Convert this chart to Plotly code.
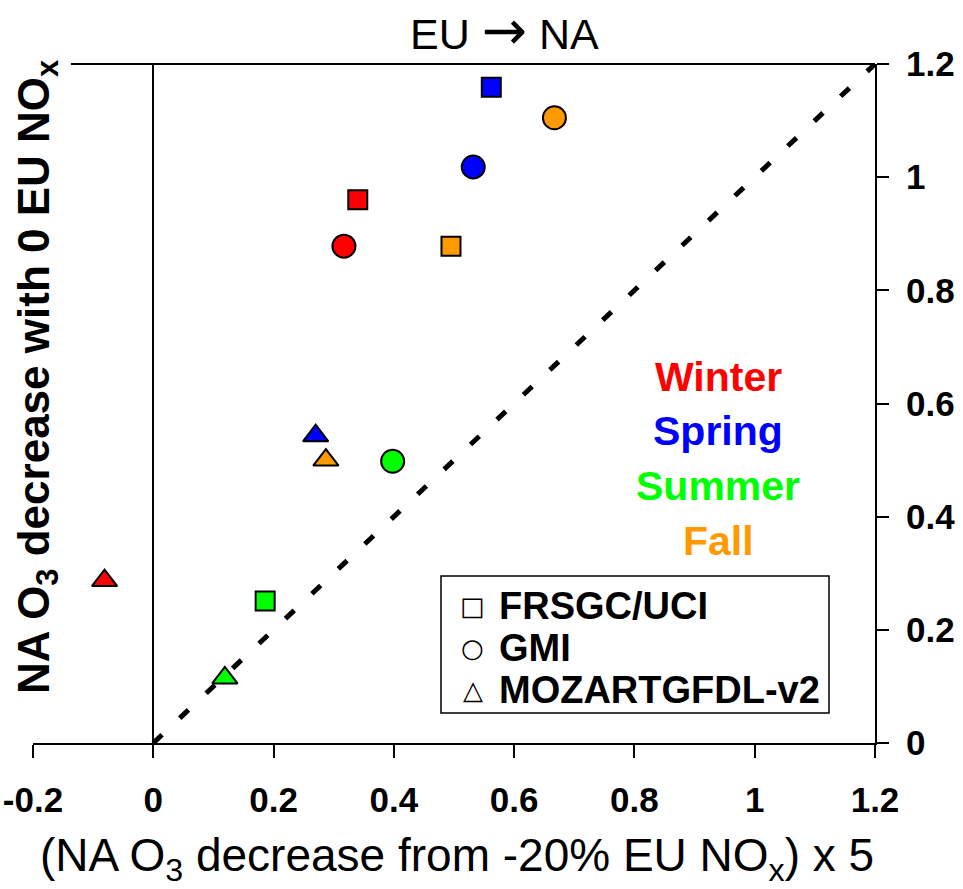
import plotly.graph_objects as go

# ---- data ----
seasons = ["Winter", "Spring", "Summer", "Fall"]
season_colors = ["#FF0000", "#0000FF", "#00FF00", "#FF9900"]
models = ["FRSGC/UCI", "GMI", "MOZARTGFDL-v2"]
model_symbols = ["square", "circle", "triangle-up"]

# x: (NA O3 decrease from -20% EU NOx) x 5 ; y: NA O3 decrease with 0 EU NOx
frsgc_x = [0.340, 0.562, 0.186, 0.495]
frsgc_y = [0.960, 1.159, 0.251, 0.878]
gmi_x = [0.317, 0.532, 0.398, 0.667]
gmi_y = [0.878, 1.018, 0.498, 1.105]
moz_x = [-0.081, 0.270, 0.119, 0.287]
moz_y = [0.287, 0.543, 0.115, 0.500]

one_to_one_x = [0.0, 1.2]
one_to_one_y = [0.0, 1.2]

x_ticks = [-0.2, 0.0, 0.2, 0.4, 0.6, 0.8, 1.0, 1.2]
x_ticktext = ["-0.2", "0", "0.2", "0.4", "0.6", "0.8", "1", "1.2"]
y_ticks = [0.0, 0.2, 0.4, 0.6, 0.8, 1.0, 1.2]
y_ticktext = ["0", "0.2", "0.4", "0.6", "0.8", "1", "1.2"]

FONT = "Liberation Sans, Arial, sans-serif"

fig = go.Figure()

fig.add_trace(go.Scatter(
    x=one_to_one_x, y=one_to_one_y, mode="lines",
    line=dict(color="black", width=5, dash="12px,24.3px"),
    showlegend=False, cliponaxis=False, hoverinfo="skip"))

model_data = [(frsgc_x, frsgc_y), (gmi_x, gmi_y), (moz_x, moz_y)]
sizes = [19, 23, 22]
for name, sym, (xs, ys), sz in zip(models, model_symbols, model_data, sizes):
    fig.add_trace(go.Scatter(
        x=xs, y=ys, mode="markers", name=name, text=seasons,
        marker=dict(symbol=sym, size=sz, color=season_colors,
                    line=dict(color="black", width=2)),
        showlegend=False, cliponaxis=False))

L, R, T, B = 33, 88, 64, 146
W, H = 963, 889
pw, ph = W - L - R, H - T - B

def px(xp):
    return (xp - L) / pw

def py(yp):
    return (H - B - yp) / ph

annotations = []
# title
annotations.append(dict(
    text="EU <span style='font-family:DejaVu Sans;font-size:54px'>\u2192</span> NA",
    x=px(504), y=py(31), xref="paper", yref="paper",
    showarrow=False, xanchor="center", yanchor="middle",
    font=dict(family=FONT, size=43, color="black")))
# x title
annotations.append(dict(text="(NA O<sub>3</sub> decrease from -20% EU NO<sub>x</sub>) x 5",
                        x=px(457), y=py(858), xref="paper", yref="paper",
                        showarrow=False, xanchor="center", yanchor="middle",
                        font=dict(family=FONT, size=46, color="black")))
# y title
annotations.append(dict(text="NA O<sub>3</sub> decrease with 0 EU NO<sub>x</sub>",
                        x=px(37), y=py(377), xref="paper", yref="paper", textangle=-90,
                        showarrow=False, xanchor="center", yanchor="middle",
                        font=dict(family=FONT, size=44, color="black", weight="bold")))
# season labels
season_y = [377, 431, 486, 541]
for s, c, yy in zip(seasons, season_colors, season_y):
    annotations.append(dict(text=s, x=px(718), y=py(yy), xref="paper", yref="paper",
                            showarrow=False, xanchor="center", yanchor="middle",
                            font=dict(family=FONT, size=41, color=c, weight="bold")))
# legend (manual)
legend_glyphs = ["\u25A1", "\u25CB", "\u25B3"]
legend_y = [606, 648, 690]
for g, m, yy in zip(legend_glyphs, models, legend_y):
    annotations.append(dict(text=g, x=px(473), y=py(yy), xref="paper", yref="paper",
                            showarrow=False, xanchor="center", yanchor="middle",
                            font=dict(family="DejaVu Sans, sans-serif", size=26, color="black")))
    annotations.append(dict(text=m, x=px(497), y=py(yy), xref="paper", yref="paper",
                            showarrow=False, xanchor="left", yanchor="middle",
                            font=dict(family=FONT, size=38, color="black", weight="bold")))

shapes = [
    dict(type="line", xref="paper", yref="paper", x0=px(71), x1=1, y0=1, y1=1,
         line=dict(color="black", width=2)),
    dict(type="rect", xref="paper", yref="paper", x0=px(441), x1=px(829), y0=py(713), y1=py(576),
         line=dict(color="black", width=1.5), fillcolor="rgba(0,0,0,0)"),
]

fig.update_layout(
    width=W, height=H, margin=dict(l=L, r=R, t=T, b=B, autoexpand=False),
    paper_bgcolor="white", plot_bgcolor="white",
    showlegend=False, annotations=annotations, shapes=shapes,
    xaxis=dict(range=[-0.2, 1.2], tickvals=x_ticks, ticktext=x_ticktext,
               automargin=False,
               showgrid=False, showline=True, linecolor="black", linewidth=2,
               ticks="outside", ticklen=13, tickwidth=2, tickcolor="black",
               zeroline=True, zerolinecolor="black", zerolinewidth=2,
               ticklabelstandoff=12,
               tickfont=dict(family=FONT, size=35, color="black", weight="bold")),
    yaxis=dict(range=[0, 1.2], tickvals=y_ticks, ticktext=y_ticktext, side="right",
               automargin=False,
               showgrid=False, showline=True, linecolor="black", linewidth=2,
               ticks="outside", ticklen=12, tickwidth=2, tickcolor="black",
               zeroline=False, ticklabelstandoff=10,
               tickfont=dict(family=FONT, size=35, color="black", weight="bold")),
)

fig.write_html("out.html")
